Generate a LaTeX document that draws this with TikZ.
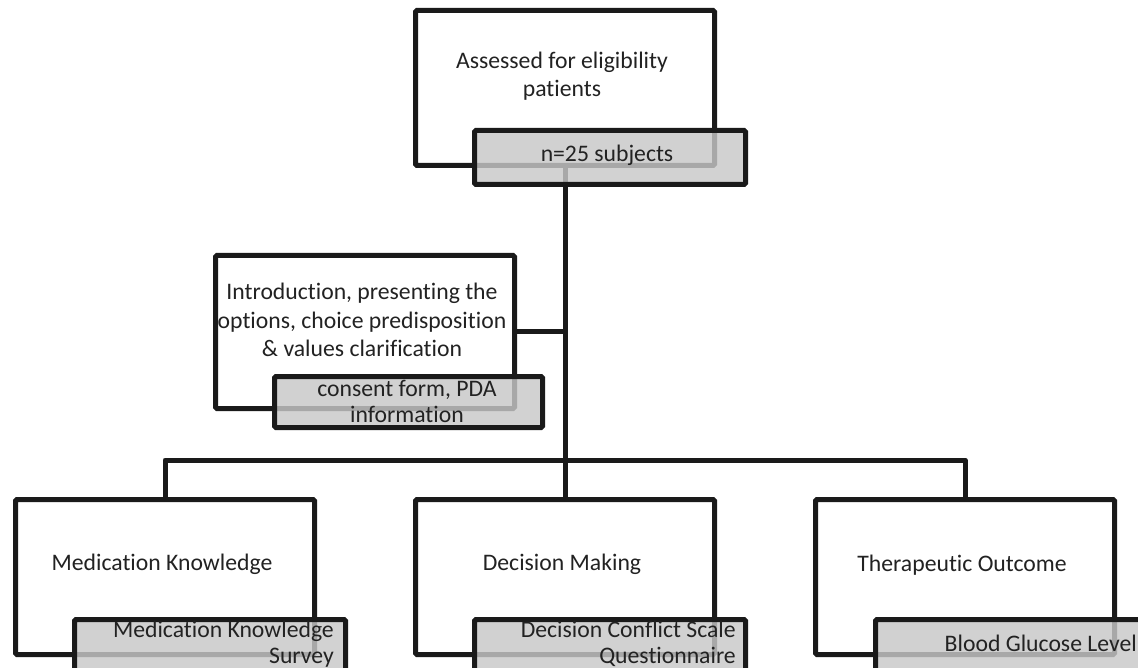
\documentclass[tikz,border=0pt]{standalone}
\usepackage{fontspec}
\setmainfont{Carlito}[RawFeature={-liga;-clig;-dlig;-calt}]
\definecolor{txt}{HTML}{222222}
\definecolor{edge}{HTML}{1A1A1A}
\definecolor{shade}{RGB}{200,200,200}
\tikzset{
 wbox/.style={draw=edge, line width=5pt, fill=white, rectangle, rounded corners=1.5pt, inner sep=0pt, minimum width=299pt, minimum height=155pt, anchor=north west},
 gbox/.style={draw=edge, line width=5pt, fill=shade, fill opacity=0.82, draw opacity=1, text opacity=1, rectangle, rounded corners=1.5pt, inner sep=0pt, minimum width=271pt, minimum height=54pt, anchor=north west},
 lbl/.style={text=txt, font=\fontsize{23.7}{28.5}\selectfont, align=center, inner sep=0pt},
 glbl/.style={text=txt, font=\fontsize{23.7}{26}\selectfont, align=center, inner sep=0pt},
 conn/.style={draw=edge, line width=5pt},
}
\begin{document}
\begin{tikzpicture}[x=1pt, y=-1pt]
\useasboundingbox (0,0) rectangle (1138,668);
\clip (0,0) rectangle (1138,668);
% white boxes
\node[wbox] (top) at (413,8) {};
\node[wbox, minimum height=153pt] (intro) at (213,253) {};
\node[wbox] (left) at (13,497) {};
\node[wbox] (mid) at (413,497) {};
\node[wbox] (right) at (813,497) {};
% connectors
\coordinate (bar) at (0,460);
\draw[conn] (top.south) -- (mid.north);
\draw[conn] (intro.east) -- (intro.east -| top.south);
\draw[conn, line join=round] (left.north) -- (left.north |- bar) -- (right.north |- bar) -- (right.north);
% gray boxes
\node[gbox] (topg) at (472,128) {};
\node[gbox, minimum width=268pt, minimum height=51pt] (introg) at (272,374) {};
\node[gbox] (leftg) at (72,617) {};
\node[gbox] (midg) at (472,617) {};
\node[gbox] (rightg) at (873,617) {};
% texts
\node[lbl] (t1) at (562,76) {Assessed for eligibility\\patients};
\node[glbl] (t1g) at (607,155) {n=25 subjects};
\node[lbl] (t2) at (362,320) {Introduction, presenting the\\options, choice predisposition\\\& values clarification};
\node[glbl] (t2g) at (407,401) {consent form, PDA\\information};
\node[lbl] (t3) at (162,564) {Medication Knowledge};
\node[glbl, align=right, anchor=east] (t3g) at (334,644) {Medication Knowledge\\Survey};
\node[lbl] (t4) at (562,564) {Decision Making};
\node[glbl, align=right, anchor=east] (t4g) at (736,644) {Decision Conflict Scale\\Questionnaire};
\node[lbl] (t5) at (962,565) {Therapeutic Outcome};
\node[glbl, anchor=east] (t5g) at (1137,643) {Blood Glucose Level};
\end{tikzpicture}
\end{document}
